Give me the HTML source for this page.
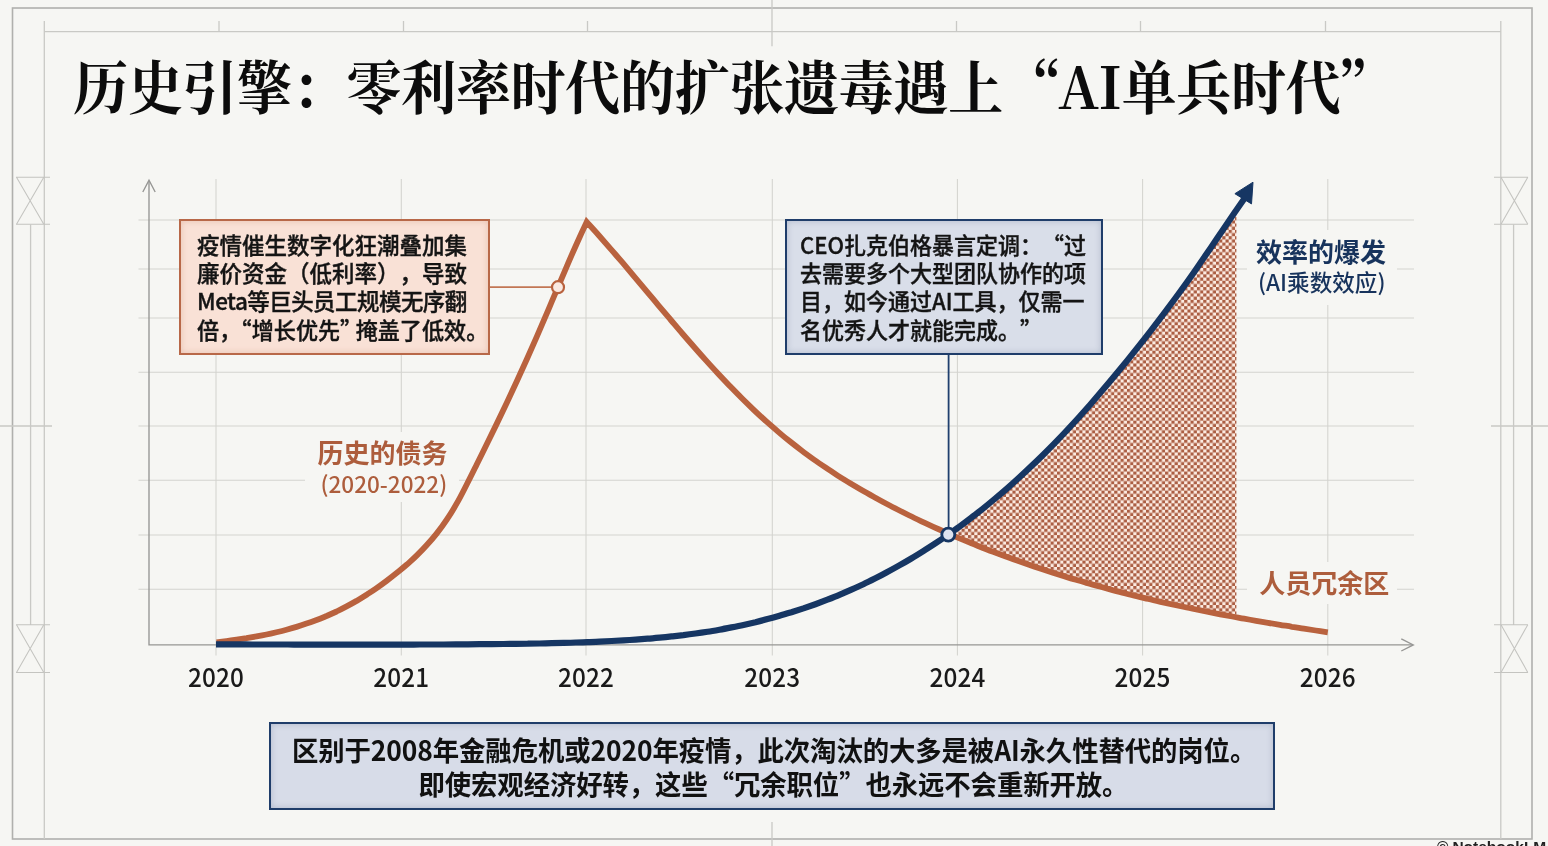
<!DOCTYPE html>
<html lang="zh-CN">
<head>
<meta charset="utf-8">
<title>历史引擎：零利率时代的扩张遗毒遇上“AI单兵时代”</title>
<style>
html,body{margin:0;padding:0;}
body{width:1548px;height:846px;overflow:hidden;background:#f6f6f3;position:relative;
  font-family:"Liberation Sans","Noto Sans CJK SC",sans-serif;color:#151515;}
#stage{position:absolute;left:0;top:0;width:1548px;height:846px;overflow:hidden;}
svg{position:absolute;left:0;top:0;}
.t{position:absolute;white-space:nowrap;line-height:1;text-spacing-trim:space-all;}
.sans{font-family:"Noto Sans CJK SC","Liberation Sans",sans-serif;}
#title{left:73px;top:57.2px;transform:scaleY(1.06);transform-origin:50% 52%;font-family:"Noto Serif CJK SC","Liberation Serif",serif;font-weight:700;font-size:55px;letter-spacing:-0.3px;color:#0c0c0c;}
.yr{font-size:24.3px;font-weight:500;top:664.9px;letter-spacing:0.15px;transform:scaleY(1.07);transform-origin:50% 88%;width:100px;text-align:center;color:#1a1a1a;}
.box{position:absolute;box-sizing:border-box;}
#b1{left:179px;top:219px;width:311px;height:135.5px;background:#f9e1d6;border:2.8px solid #b86848;box-shadow:inset 0 0 6px rgba(200,130,100,.35);}
#b2{left:784.5px;top:219px;width:318px;height:135.5px;background:#d9dee9;border:2.8px solid #1f3d6a;box-shadow:inset 0 0 6px rgba(60,80,120,.25);}
#b3{left:269.2px;top:722.3px;width:1005.6px;height:88.2px;background:#d7dce8;border:2.6px solid #1f3d6a;box-shadow:inset 0 0 6px rgba(60,80,120,.25);}
.bt{font-size:22.5px;font-weight:500;color:#141414;-webkit-text-stroke:0.38px #141414;transform:scaleY(1.035);transform-origin:0 55%;}
.b2t{font-size:22px;}
.pl{display:inline-block;width:0.5em;}
.pr{display:inline-block;width:0.5em;text-indent:-0.5em;}
.bb{font-size:26.4px;font-weight:700;color:#111;letter-spacing:-0.1px;transform:scaleY(1.05);transform-origin:50% 55%;}
.halo{position:absolute;background:#f6f6f3;}
</style>
</head>
<body>
<div id="stage">
<svg width="1548" height="846" viewBox="0 0 1548 846">
  <defs>
    <pattern id="hx" patternUnits="userSpaceOnUse" width="6.36" height="6.36" x="1.2" y="0.9">
      <rect width="6.36" height="6.36" fill="#fcebe1"/>
      <rect x="0.00" y="0.00" width="3.18" height="3.18" fill="#ab5e43"/>
      <rect x="3.18" y="3.18" width="3.18" height="3.18" fill="#ab5e43"/>
    </pattern>
  </defs>
  <!-- frame -->
  <g fill="none" stroke="#b0b0ad" stroke-width="1.6">
    <rect x="12.5" y="8" width="1519.5" height="831"/>
  </g>
  <g fill="none" stroke="#c9c9c5" stroke-width="1.3">
    <path d="M44.3 21V839M44.3 31.6H1500.8M1500.8 21V839"/>
    <path d="M30.6 224.5V625M1513.6 224.5V625"/>
    <path d="M0 426H52M1491 426H1548M772 0V46.2M772 822V846"/>
    <line x1="219.0" y1="21" x2="219.0" y2="31.6"/><line x1="403.5" y1="21" x2="403.5" y2="31.6"/><line x1="587.5" y1="21" x2="587.5" y2="31.6"/><line x1="956.5" y1="21" x2="956.5" y2="31.6"/><line x1="1140.5" y1="21" x2="1140.5" y2="31.6"/><line x1="1325.5" y1="21" x2="1325.5" y2="31.6"/>
  </g>
  <!-- hourglass marks -->
  <g fill="none" stroke="#c4c4c0" stroke-width="1.05">
    <path d="M16 177.2H50M16 224.3H50M16.5 177.2L43.8 224.3M43.8 177.2L16.5 224.3"/>
    <path d="M16 624.7H50M16 672.4H50M16.5 624.7L43.8 672.4M43.8 624.7L16.5 672.4"/>
    <path d="M1494 177.2H1528M1494 224.3H1528M1501 177.2L1527.8 224.3M1527.8 177.2L1501 224.3"/>
    <path d="M1494 624.7H1528M1494 672.4H1528M1501 624.7L1527.8 672.4M1527.8 624.7L1501 672.4"/>
  </g>
  <!-- grid -->
  <g fill="none" stroke="#d3d3cf" stroke-width="1.05"><line x1="216.0" y1="179" x2="216.0" y2="655.5"/><line x1="401.3" y1="179" x2="401.3" y2="655.5"/><line x1="586.0" y1="179" x2="586.0" y2="655.5"/><line x1="772.3" y1="179" x2="772.3" y2="655.5"/><line x1="957.4" y1="179" x2="957.4" y2="655.5"/><line x1="1142.6" y1="179" x2="1142.6" y2="655.5"/><line x1="1327.8" y1="179" x2="1327.8" y2="655.5"/><line x1="138.5" y1="220.0" x2="1414" y2="220.0"/><line x1="138.5" y1="269.0" x2="1414" y2="269.0"/><line x1="138.5" y1="318.0" x2="1414" y2="318.0"/><line x1="138.5" y1="372.3" x2="1414" y2="372.3"/><line x1="138.5" y1="426.0" x2="1414" y2="426.0"/><line x1="138.5" y1="480.2" x2="1414" y2="480.2"/><line x1="138.5" y1="535.0" x2="1414" y2="535.0"/><line x1="138.5" y1="589.3" x2="1414" y2="589.3"/></g>
  <!-- axes -->
  <g fill="none" stroke="#969694" stroke-width="1.35">
    <path d="M149 181V644.9H1412.5"/>
    <path d="M142.8 192L149 180.2L155.2 192"/>
    <path d="M1401.3 638.8L1413.3 644.9L1401.3 651"/>
  </g>
</svg>
<!-- halos behind free labels -->
<div class="halo" style="left:305px;top:432px;width:154px;height:70px"></div>
<div class="halo" style="left:1247px;top:230px;width:150px;height:75px"></div>
<div class="halo" style="left:1247px;top:562px;width:150px;height:42px"></div>
<svg width="1548" height="846" viewBox="0 0 1548 846">
  <path d="M948.3 534.5 C950.3 533.1 956.3 528.9 960.3 525.9 C964.3 523.0 968.3 520.0 972.3 516.9 C976.3 513.8 980.3 510.7 984.3 507.5 C988.3 504.3 992.3 501.0 996.3 497.6 C1000.3 494.3 1004.3 490.8 1008.3 487.3 C1012.3 483.8 1016.3 480.2 1020.3 476.5 C1024.3 472.9 1028.3 469.1 1032.3 465.3 C1036.3 461.5 1040.3 457.5 1044.3 453.6 C1048.3 449.6 1052.3 445.5 1056.3 441.4 C1060.3 437.2 1064.3 433.0 1068.3 428.7 C1072.3 424.4 1076.3 420.1 1080.3 415.6 C1084.3 411.2 1088.3 406.7 1092.3 402.1 C1096.4 397.5 1100.4 392.9 1104.4 388.2 C1108.4 383.5 1112.4 378.7 1116.4 373.8 C1120.4 369.0 1124.4 364.1 1128.4 359.1 C1132.4 354.1 1136.4 349.1 1140.4 344.0 C1144.4 339.0 1148.4 333.8 1152.4 328.6 C1156.4 323.4 1160.4 318.2 1164.4 312.9 C1168.4 307.5 1172.4 302.2 1176.4 296.7 C1180.4 291.3 1184.4 285.7 1188.4 280.1 C1192.4 274.5 1196.4 268.8 1200.4 263.0 C1204.4 257.2 1208.4 251.3 1212.4 245.5 C1216.4 239.6 1220.4 233.6 1224.4 227.7 C1228.4 221.8 1234.4 213.0 1236.4 210.0 L1236.4 617.3 C1234.4 616.9 1228.4 615.8 1224.4 615.1 C1220.4 614.3 1216.4 613.5 1212.4 612.8 C1208.4 612.0 1204.4 611.2 1200.4 610.4 C1196.4 609.6 1192.4 608.7 1188.4 607.9 C1184.4 607.1 1180.4 606.2 1176.4 605.3 C1172.4 604.5 1168.4 603.6 1164.4 602.7 C1160.4 601.8 1156.4 600.9 1152.4 599.9 C1148.4 599.0 1144.4 598.0 1140.4 597.1 C1136.4 596.1 1132.4 595.1 1128.4 594.1 C1124.4 593.1 1120.4 592.1 1116.4 591.0 C1112.4 590.0 1108.4 588.9 1104.4 587.8 C1100.4 586.8 1096.4 585.7 1092.3 584.5 C1088.3 583.4 1084.3 582.3 1080.3 581.1 C1076.3 579.9 1072.3 578.7 1068.3 577.5 C1064.3 576.3 1060.3 575.1 1056.3 573.8 C1052.3 572.5 1048.3 571.3 1044.3 569.9 C1040.3 568.6 1036.3 567.3 1032.3 565.9 C1028.3 564.6 1024.3 563.2 1020.3 561.8 C1016.3 560.4 1012.3 559.0 1008.3 557.5 C1004.3 556.0 1000.3 554.6 996.3 553.0 C992.3 551.5 988.3 550.0 984.3 548.4 C980.3 546.8 976.3 545.2 972.3 543.6 C968.3 542.0 964.3 540.3 960.3 538.6 C956.3 537.0 950.3 534.4 948.3 533.5 Z" fill="url(#hx)" style="filter:blur(0.45px)"/>
  <path d="M216.5 642.4 C218.2 642.2 223.2 641.6 226.5 641.1 C229.8 640.7 233.2 640.2 236.5 639.7 C239.8 639.2 243.2 638.7 246.5 638.2 C249.9 637.6 253.2 637.0 256.5 636.4 C259.9 635.8 263.2 635.2 266.5 634.5 C269.9 633.8 273.2 633.0 276.5 632.2 C279.9 631.4 283.2 630.6 286.5 629.7 C289.9 628.8 293.2 627.9 296.5 626.9 C299.9 625.9 303.2 624.8 306.5 623.6 C309.9 622.5 313.2 621.3 316.6 620.0 C319.9 618.8 323.2 617.4 326.6 616.0 C329.9 614.5 333.2 613.0 336.6 611.5 C339.9 609.9 343.2 608.2 346.6 606.4 C349.9 604.7 353.2 602.8 356.6 600.9 C359.9 598.9 363.2 596.9 366.6 594.8 C369.9 592.6 373.3 590.4 376.6 588.1 C379.9 585.8 383.3 583.4 386.6 580.9 C389.9 578.4 393.3 575.8 396.6 573.1 C399.9 570.4 403.3 567.7 406.6 564.8 C409.9 561.8 413.3 558.9 416.6 555.6 C419.9 552.4 423.3 549.0 426.6 545.3 C429.9 541.7 433.3 537.8 436.6 533.6 C440.0 529.3 443.3 524.9 446.6 519.9 C450.0 514.9 453.3 509.6 456.6 503.7 C460.0 497.9 463.3 491.2 466.6 484.7 C470.0 478.2 473.3 471.4 476.6 464.7 C480.0 458.0 483.3 451.3 486.6 444.5 C490.0 437.7 493.3 430.8 496.7 423.9 C500.0 417.0 503.3 410.0 506.7 403.0 C510.0 395.9 513.3 388.7 516.7 381.5 C520.0 374.2 523.3 366.9 526.7 359.5 C530.0 352.0 533.3 344.5 536.7 336.8 C540.0 329.2 543.3 321.5 546.7 313.7 C550.0 305.9 553.3 297.9 556.7 290.1 C560.0 282.2 563.4 274.3 566.7 266.6 C570.0 258.8 573.4 251.1 576.7 243.7 C580.0 236.3 585.0 225.6 586.7 222.0 C588.7 224.2 594.7 230.7 598.7 235.2 C602.6 239.7 606.6 244.2 610.6 248.8 C614.6 253.4 618.6 258.1 622.6 262.7 C626.5 267.4 630.5 272.1 634.5 276.9 C638.5 281.6 642.5 286.3 646.5 291.1 C650.5 295.8 654.4 300.6 658.4 305.3 C662.4 310.1 666.4 314.8 670.4 319.5 C674.4 324.2 678.3 328.9 682.3 333.5 C686.3 338.1 690.3 342.7 694.3 347.2 C698.3 351.8 702.2 356.2 706.2 360.6 C710.2 365.1 714.2 369.4 718.2 373.7 C722.2 378.0 726.2 382.2 730.1 386.3 C734.1 390.4 738.1 394.5 742.1 398.5 C746.1 402.4 750.1 406.3 754.0 410.1 C758.0 413.9 762.0 417.6 766.0 421.2 C770.0 424.7 774.0 428.2 778.0 431.6 C781.9 435.0 785.9 438.3 789.9 441.4 C793.9 444.6 797.9 447.7 801.9 450.7 C805.8 453.7 809.8 456.6 813.8 459.5 C817.8 462.3 821.8 465.0 825.8 467.7 C829.7 470.4 833.7 473.0 837.7 475.6 C841.7 478.1 845.7 480.6 849.7 483.0 C853.7 485.4 857.6 487.7 861.6 490.1 C865.6 492.4 869.6 494.6 873.6 496.8 C877.6 499.0 881.5 501.2 885.5 503.3 C889.5 505.4 893.5 507.5 897.5 509.5 C901.5 511.6 905.5 513.6 909.4 515.5 C913.4 517.5 917.4 519.4 921.4 521.3 C925.4 523.2 929.4 525.0 933.3 526.8 C937.3 528.6 941.3 530.4 945.3 532.2 C949.3 533.9 953.3 535.7 957.2 537.4 C961.2 539.0 965.2 540.7 969.2 542.3 C973.2 544.0 977.2 545.6 981.2 547.2 C985.1 548.7 989.1 550.3 993.1 551.8 C997.1 553.3 1001.1 554.8 1005.1 556.3 C1009.0 557.8 1013.0 559.2 1017.0 560.6 C1021.0 562.0 1025.0 563.4 1029.0 564.8 C1033.0 566.2 1036.9 567.5 1040.9 568.8 C1044.9 570.1 1048.9 571.4 1052.9 572.7 C1056.9 574.0 1060.8 575.2 1064.8 576.4 C1068.8 577.7 1072.8 578.9 1076.8 580.0 C1080.8 581.2 1084.8 582.4 1088.7 583.5 C1092.7 584.6 1096.7 585.8 1100.7 586.8 C1104.7 587.9 1108.7 589.0 1112.6 590.1 C1116.6 591.1 1120.6 592.1 1124.6 593.2 C1128.6 594.2 1132.6 595.2 1136.5 596.1 C1140.5 597.1 1144.5 598.1 1148.5 599.0 C1152.5 600.0 1156.5 600.9 1160.5 601.8 C1164.4 602.7 1168.4 603.6 1172.4 604.5 C1176.4 605.3 1180.4 606.2 1184.4 607.0 C1188.3 607.9 1192.3 608.7 1196.3 609.5 C1200.3 610.4 1204.3 611.2 1208.3 611.9 C1212.3 612.7 1216.2 613.5 1220.2 614.3 C1224.2 615.0 1228.2 615.8 1232.2 616.5 C1236.2 617.2 1240.1 618.0 1244.1 618.7 C1248.1 619.4 1252.1 620.1 1256.1 620.8 C1260.1 621.5 1264.0 622.2 1268.0 622.8 C1272.0 623.5 1276.0 624.2 1280.0 624.8 C1284.0 625.5 1288.0 626.1 1291.9 626.8 C1295.9 627.4 1299.9 628.0 1303.9 628.7 C1307.9 629.3 1311.9 629.9 1315.8 630.5 C1319.8 631.1 1325.8 632.0 1327.8 632.3" fill="none" stroke="#b9623e" stroke-width="5.8" stroke-linecap="butt" stroke-linejoin="miter" stroke-miterlimit="4"/>
  <path d="M216.0 644.4 C218.0 644.4 224.0 644.4 228.0 644.4 C232.0 644.4 236.0 644.4 240.0 644.4 C244.0 644.4 248.0 644.5 252.0 644.5 C256.0 644.5 260.0 644.5 264.0 644.5 C267.9 644.5 271.9 644.5 275.9 644.5 C279.9 644.5 283.9 644.5 287.9 644.5 C291.9 644.5 295.9 644.6 299.9 644.6 C303.9 644.6 307.9 644.6 311.9 644.6 C315.9 644.6 319.9 644.6 323.9 644.6 C327.9 644.6 331.9 644.6 335.9 644.6 C339.9 644.6 343.9 644.6 347.9 644.6 C351.9 644.6 355.9 644.6 359.9 644.6 C363.9 644.6 367.9 644.6 371.8 644.6 C375.8 644.6 379.8 644.6 383.8 644.6 C387.8 644.6 391.8 644.6 395.8 644.6 C399.8 644.6 403.8 644.6 407.8 644.6 C411.8 644.6 415.8 644.5 419.8 644.5 C423.8 644.5 427.8 644.5 431.8 644.5 C435.8 644.5 439.8 644.5 443.8 644.5 C447.8 644.4 451.8 644.4 455.8 644.4 C459.8 644.4 463.8 644.4 467.8 644.3 C471.8 644.3 475.7 644.3 479.7 644.2 C483.7 644.2 487.7 644.2 491.7 644.1 C495.7 644.1 499.7 644.1 503.7 644.0 C507.7 644.0 511.7 643.9 515.7 643.9 C519.7 643.8 523.7 643.7 527.7 643.7 C531.7 643.6 535.7 643.5 539.7 643.5 C543.7 643.4 547.7 643.3 551.7 643.2 C555.7 643.1 559.7 643.0 563.7 642.9 C567.7 642.8 571.7 642.7 575.7 642.5 C579.6 642.4 583.6 642.3 587.6 642.1 C591.6 642.0 595.6 641.8 599.6 641.6 C603.6 641.4 607.6 641.2 611.6 641.0 C615.6 640.8 619.6 640.6 623.6 640.4 C627.6 640.1 631.6 639.9 635.6 639.6 C639.6 639.3 643.6 639.0 647.6 638.7 C651.6 638.4 655.6 638.0 659.6 637.6 C663.6 637.3 667.6 636.9 671.6 636.4 C675.6 636.0 679.6 635.5 683.5 635.1 C687.5 634.6 691.5 634.0 695.5 633.5 C699.5 632.9 703.5 632.3 707.5 631.7 C711.5 631.1 715.5 630.4 719.5 629.7 C723.5 629.0 727.5 628.2 731.5 627.4 C735.5 626.6 739.5 625.8 743.5 624.9 C747.5 624.0 751.5 623.1 755.5 622.2 C759.5 621.2 763.5 620.2 767.5 619.1 C771.5 618.1 775.5 617.0 779.5 615.8 C783.4 614.7 787.4 613.5 791.4 612.3 C795.4 611.0 799.4 609.7 803.4 608.4 C807.4 607.0 811.4 605.6 815.4 604.2 C819.4 602.7 823.4 601.2 827.4 599.7 C831.4 598.1 835.4 596.5 839.4 594.8 C843.4 593.2 847.4 591.5 851.4 589.7 C855.4 587.9 859.4 586.1 863.4 584.2 C867.4 582.3 871.4 580.3 875.4 578.3 C879.4 576.3 883.4 574.2 887.3 572.0 C891.3 569.9 895.3 567.7 899.3 565.4 C903.3 563.2 907.3 560.9 911.3 558.5 C915.3 556.1 919.3 553.6 923.3 551.1 C927.3 548.6 931.3 546.0 935.3 543.4 C939.3 540.7 943.3 538.0 947.3 535.2 C951.3 532.4 955.3 529.6 959.3 526.7 C963.3 523.8 967.3 520.8 971.3 517.7 C975.3 514.7 979.3 511.5 983.3 508.3 C987.3 505.1 991.2 501.9 995.2 498.5 C999.2 495.2 1003.2 491.8 1007.2 488.3 C1011.2 484.8 1015.2 481.2 1019.2 477.5 C1023.2 473.9 1027.2 470.2 1031.2 466.3 C1035.2 462.5 1039.2 458.7 1043.2 454.7 C1047.2 450.7 1051.2 446.7 1055.2 442.6 C1059.2 438.5 1063.2 434.3 1067.2 430.0 C1071.2 425.7 1075.2 421.4 1079.2 417.0 C1083.2 412.5 1087.2 408.1 1091.2 403.5 C1095.1 398.9 1099.1 394.3 1103.1 389.6 C1107.1 384.9 1111.1 380.2 1115.1 375.3 C1119.1 370.5 1123.1 365.6 1127.1 360.7 C1131.1 355.7 1135.1 350.7 1139.1 345.6 C1143.1 340.6 1147.1 335.5 1151.1 330.3 C1155.1 325.1 1159.1 319.9 1163.1 314.6 C1167.1 309.3 1171.1 303.9 1175.1 298.5 C1179.1 293.1 1183.1 287.6 1187.1 282.0 C1191.1 276.4 1195.1 270.7 1199.0 264.9 C1203.0 259.2 1207.0 253.3 1211.0 247.5 C1215.0 241.6 1219.0 235.6 1223.0 229.7 C1227.0 223.8 1231.0 217.9 1235.0 212.1 C1239.0 206.2 1245.0 197.7 1247.0 194.8" fill="none" stroke="#163663" stroke-width="6.2" stroke-linecap="butt" stroke-linejoin="round"/>
  <path d="M1253 182.2L1234.9 193.7L1251.5 203.9Z" fill="#163663" stroke="#163663" stroke-width="1" stroke-linejoin="round"/>
  <!-- connectors -->
  <path d="M490 287.2H551" stroke="#c27654" stroke-width="1.8" fill="none"/>
  <circle cx="558" cy="287.2" r="6" fill="#fae9e1" stroke="#b9623e" stroke-width="2.2"/>
  <path d="M948.6 354V528" stroke="#20406e" stroke-width="1.8" fill="none"/>
  <circle cx="948.3" cy="534.6" r="6.5" fill="#dde2ef" stroke="#163663" stroke-width="2.8"/>
</svg>

<div class="t" id="title">历史引擎：零利率时代的扩张遗毒遇上<span style="margin-left:3.5px;margin-right:-3px">“</span>AI单兵时代<span style="margin-left:-2.5px">”</span></div>

<div class="box" id="b1"></div>
<div class="box" id="b2"></div>
<div class="box" id="b3"></div>

<div class="t sans bt" style="left:197px;top:232.9px">疫情催生数字化狂潮叠加集</div>
<div class="t sans bt" style="left:197px;top:261.2px">廉价资金（低利率），导致</div>
<div class="t sans bt" style="left:197px;top:289.3px;letter-spacing:-0.55px">Meta等巨头员工规模无序翻</div>
<div class="t sans bt" style="left:197px;top:317.6px;font-size:22.1px">倍<span class="pl">，</span><span class="pr" style="margin-left:10.5px">“</span>增长优先<span class="pl">”</span><span style="margin-left:4.5px">掩盖了低效</span><span class="pl">。</span></div>

<div class="t sans bt b2t" style="left:800px;top:232.9px">CEO扎克伯格暴言定调：“过</div>
<div class="t sans bt b2t" style="left:800px;top:261.2px">去需要多个大型团队协作的项</div>
<div class="t sans bt b2t" style="left:800px;top:289.3px">目，如今通过AI工具，仅需一</div>
<div class="t sans bt b2t" style="left:800px;top:317.6px">名优秀人才就能完成。”</div>

<div class="t sans" style="left:317.5px;top:439px;font-size:26px;font-weight:700;color:#ad5d3c">历史的债务</div>
<div class="t sans" style="left:320.5px;top:471.8px;font-size:22.5px;font-weight:500;color:#ad5d3c">(2020-2022)</div>

<div class="t sans" style="left:1256px;top:238px;font-size:26px;font-weight:700;color:#17335c">效率的爆发</div>
<div class="t sans" style="left:1258px;top:270.6px;font-size:22.6px;font-weight:500;color:#17335c">(AI乘数效应)</div>

<div class="t sans" style="left:1259.3px;top:569.2px;font-size:26px;font-weight:700;color:#ad5d3c">人员冗余区</div>

<div class="t sans yr" style="left:166px">2020</div>
<div class="t sans yr" style="left:351.3px">2021</div>
<div class="t sans yr" style="left:536px">2022</div>
<div class="t sans yr" style="left:722.3px">2023</div>
<div class="t sans yr" style="left:907.4px">2024</div>
<div class="t sans yr" style="left:1092.6px">2025</div>
<div class="t sans yr" style="left:1277.8px">2026</div>

<div class="t sans bb" id="bl1" style="left:292px;top:736.8px">区别于2008年金融危机或2020年疫情，此次淘汰的大多是被AI永久性替代的岗位。</div>
<div class="t sans bb" id="bl2" style="left:418.5px;top:770.6px">即使宏观经济好转，这些“冗余职位”也永远不会重新开放。</div>

<div class="t" style="left:1437px;top:839.3px;font-size:15.5px;font-weight:700;color:#222;font-family:'Liberation Sans',sans-serif">©<span style="margin-left:4px">NotebookLM</span></div>
</div>
</body>
</html>
